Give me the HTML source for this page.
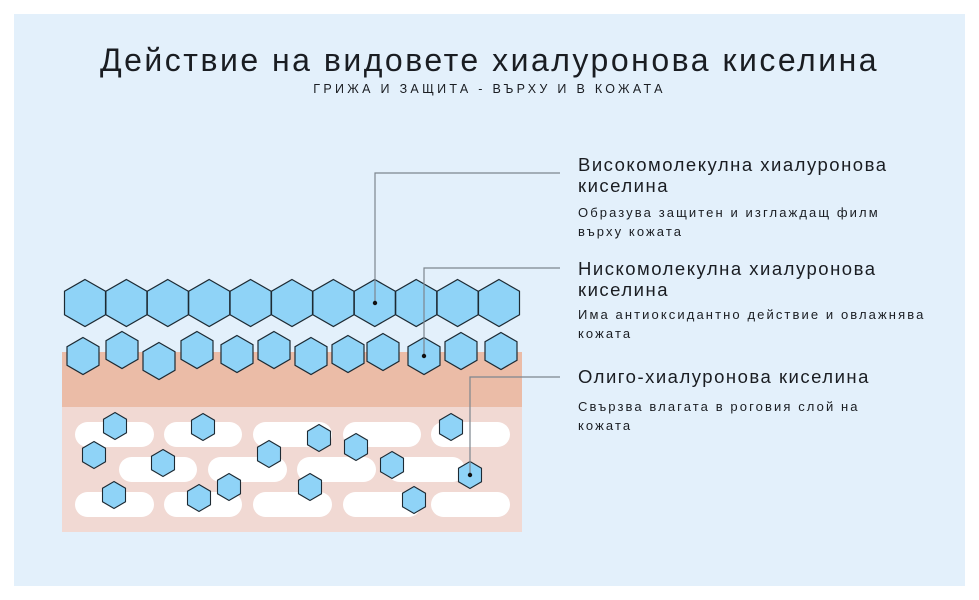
<!DOCTYPE html>
<html><head><meta charset="utf-8"><style>
body{margin:0;width:979px;height:600px;background:#fff;overflow:hidden;font-family:"Liberation Sans","DejaVu Sans",sans-serif}
.panel{position:absolute;left:14px;top:14px;width:951px;height:572px;background:#e3f0fb}
.t{position:absolute;color:#1a1d22;white-space:nowrap}
</style></head><body>
<div class="panel"></div>
<div class="t" style="left:0;width:979px;text-align:center;top:42px;font-size:32px;letter-spacing:2.5px">Действие на видовете хиалуронова киселина</div>
<div class="t" style="left:0;width:979px;text-align:center;top:82px;font-size:12.5px;letter-spacing:3.3px">ГРИЖА И ЗАЩИТА - ВЪРХУ И В КОЖАТА</div>
<div class="t" style="left:578px;top:154px;font-size:18.5px;letter-spacing:1.5px;line-height:21px">Високомолекулна хиалуронова<br>киселина</div>
<div class="t" style="left:578px;top:203px;font-size:13px;letter-spacing:2.1px;line-height:19px">Образува защитен и изглаждащ филм<br>върху кожата</div>
<div class="t" style="left:578px;top:258px;font-size:18.5px;letter-spacing:1.5px;line-height:21px">Нискомолекулна хиалуронова<br>киселина</div>
<div class="t" style="left:578px;top:305px;font-size:13px;letter-spacing:2.1px;line-height:19px">Има антиоксидантно действие и овлажнява<br>кожата</div>
<div class="t" style="left:578px;top:366px;font-size:18.5px;letter-spacing:1.5px">Олиго-хиалуронова киселина</div>
<div class="t" style="left:578px;top:397px;font-size:13px;letter-spacing:2.1px;line-height:19px">Свързва влагата в роговия слой на<br>кожата</div>
<svg width="979" height="600" style="position:absolute;left:0;top:0">
<defs>
<polygon id="H" points="0,-23.5 20.5,-11.75 20.5,11.75 0,23.5 -20.5,11.75 -20.5,-11.75" fill="#8fd3f7" stroke="#1d2a33" stroke-width="1.2"/>
<polygon id="M" points="0,-18.5 16,-9.25 16,9.25 0,18.5 -16,9.25 -16,-9.25" fill="#8fd3f7" stroke="#1d2a33" stroke-width="1.2"/>
<polygon id="S" points="0,-13.5 11.5,-6.75 11.5,6.75 0,13.5 -11.5,6.75 -11.5,-6.75" fill="#8fd3f7" stroke="#1d2a33" stroke-width="1.1"/>
</defs>
<rect x="62" y="352" width="460" height="56" fill="#ebbca7"/>
<rect x="62" y="407" width="460" height="125" fill="#f1d9d3"/>
<g fill="#fff">
<rect x="75" y="422" width="79" height="25" rx="12.5"/><rect x="164" y="422" width="78" height="25" rx="12.5"/><rect x="253" y="422" width="79" height="25" rx="12.5"/><rect x="343" y="422" width="78" height="25" rx="12.5"/><rect x="431" y="422" width="79" height="25" rx="12.5"/>
<rect x="119" y="457" width="78" height="25" rx="12.5"/><rect x="208" y="457" width="79" height="25" rx="12.5"/><rect x="297" y="457" width="79" height="25" rx="12.5"/><rect x="387" y="457" width="78" height="25" rx="12.5"/>
<rect x="75" y="492" width="79" height="25" rx="12.5"/><rect x="164" y="492" width="78" height="25" rx="12.5"/><rect x="253" y="492" width="79" height="25" rx="12.5"/><rect x="343" y="492" width="78" height="25" rx="12.5"/><rect x="431" y="492" width="79" height="25" rx="12.5"/>
</g>
<g>
<use href="#H" x="85" y="303"/><use href="#H" x="126.4" y="303"/><use href="#H" x="167.8" y="303"/><use href="#H" x="209.2" y="303"/><use href="#H" x="250.6" y="303"/><use href="#H" x="292" y="303"/><use href="#H" x="333.4" y="303"/><use href="#H" x="374.8" y="303"/><use href="#H" x="416.2" y="303"/><use href="#H" x="457.6" y="303"/><use href="#H" x="499" y="303"/>
<use href="#M" x="83" y="356"/><use href="#M" x="122" y="350"/><use href="#M" x="159" y="361"/><use href="#M" x="197" y="350"/><use href="#M" x="237" y="354"/><use href="#M" x="274" y="350"/><use href="#M" x="311" y="356"/><use href="#M" x="348" y="354"/><use href="#M" x="383" y="352"/><use href="#M" x="424" y="356"/><use href="#M" x="461" y="351"/><use href="#M" x="501" y="351"/>
<use href="#S" x="115" y="426"/><use href="#S" x="203" y="427"/><use href="#S" x="451" y="427"/><use href="#S" x="94" y="455"/><use href="#S" x="163" y="463"/><use href="#S" x="269" y="454"/><use href="#S" x="319" y="438"/><use href="#S" x="356" y="447"/><use href="#S" x="392" y="465"/><use href="#S" x="470" y="475"/><use href="#S" x="114" y="495"/><use href="#S" x="199" y="498"/><use href="#S" x="229" y="487"/><use href="#S" x="310" y="487"/><use href="#S" x="414" y="500"/>
</g>
<g fill="none" stroke="#7d868e" stroke-width="1.2">
<polyline points="375,303 375,173 560,173"/>
<polyline points="424,356 424,268 560,268"/>
<polyline points="470,475 470,377 560,377"/>
</g>
<g fill="#111"><circle cx="375" cy="303" r="2.2"/><circle cx="424" cy="356" r="2.2"/><circle cx="470" cy="475" r="2.2"/></g>
</svg>
</body></html>
